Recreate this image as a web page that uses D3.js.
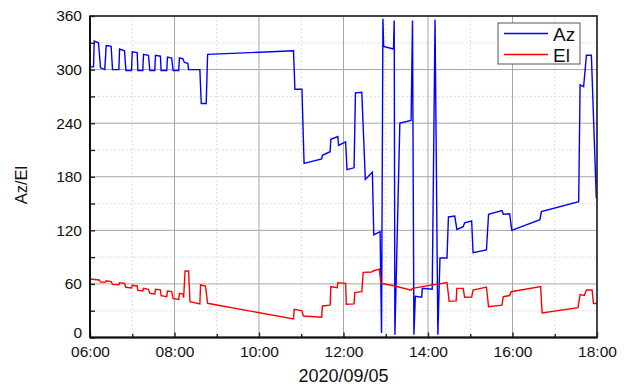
<!DOCTYPE html>
<html>
<head>
<meta charset="utf-8">
<script src="https://cdn.jsdelivr.net/npm/d3@7"></script>
<style>
  body { margin: 0; background: #fff; }
  svg { font-family: "Liberation Sans", Arial, sans-serif; }
</style>
</head>
<body>
<svg id="chart" width="627" height="385"></svg>
<script>
// Az series (time, degrees)
var azTimes = ['06:00','06:05','06:06','06:12','06:15','06:21','06:23','06:30','06:32','06:41','06:42','06:49','06:51','06:59',
  '07:00','07:07','07:08','07:15','07:16','07:23','07:25','07:32','07:33','07:40','07:41','07:49','07:50','07:56','07:58',
  '08:06','08:07','08:12','08:14','08:19','08:20','08:36','08:38','08:45','08:47','10:49','10:51','11:01','11:04','11:29',
  '11:30','11:41','11:42','11:52','11:53','12:03','12:05','12:15','12:17','12:26','12:31','12:41','12:43','12:52','12:54',
  '12:56','12:57','13:11','13:12','13:13','13:20','13:36','13:38','13:40','13:42','13:51','13:52','14:06','14:10','14:14',
  '14:17','14:27','14:29','14:38','14:41','14:50','14:52','15:02','15:04','15:23','15:26','15:45','15:47','15:56','15:59',
  '16:39','16:41','17:34','17:36','17:41','17:45','17:52','17:59'];
var azValues = [303,303,332,330,302,300,327,326,300,300,323,321,299,299,
  320,319,299,299,317,316,299,299,316,315,299,299,314,313,299,
  299,313,312,308,307,300,300,262,262,317,321,278,278,195,200,
  204,208,222,225,215,219,188,190,274,274.5,177,185,115,118.5,5,
  357,326,323,355,3,240,243,355,3,46,45,55,54,356,3,
  89,89,135,136,121,124,128.5,130.5,95,98,138,142,138,138.5,120,
  132,141,152,283,281,316,316,156];

// El series (time, degrees)
var elTimes = ['06:00','06:13','06:15','06:22','06:23','06:30','06:32','06:41','06:42','06:49','06:51','06:59',
  '07:00','07:07','07:08','07:15','07:16','07:23','07:25','07:32','07:33','07:40','07:41','07:49','07:50','07:56','07:58',
  '08:06','08:07','08:12','08:13','08:15','08:20','08:22','08:36','08:37','08:44','08:47','10:49','10:50','11:01','11:03',
  '11:29','11:30','11:41','11:42','11:51','11:52','12:03','12:04','12:15','12:16','12:26','12:28','12:40','12:42','12:51',
  '12:53','13:12','13:36','13:38','13:52','14:27','14:30','14:40','14:41','14:50','14:52','15:02','15:04','15:23','15:26',
  '15:45','15:47','15:56','15:58','16:40','16:42','17:33','17:36','17:42','17:45','17:53','17:55','18:00'];
var elValues = [65.5,64.4,62,62,63.6,62.5,59.5,59,61.4,60.5,56.2,55.5,
  58.4,57.7,52.8,52,55,54,49.5,48.8,54,53.3,46.8,45.7,52,51.4,43.5,
  42.7,49.5,48.5,44.6,74.5,74.5,40,37.7,58.8,57.5,38.3,20.7,31.6,29.8,24,
  22.6,35.3,36.3,56.9,55.7,61.4,60.6,37.2,37.6,50.2,51.4,73,73.3,74.5,76.5,
  60.7,58,53,55,56.9,61.6,40.5,41,55,55,45,45.4,53.2,56.5,34.5,
  36.3,45.7,47,51.3,57,27.5,33.5,48,47,53.2,53.2,38,38];

var yMajor = [0, 60, 120, 180, 240, 300, 360];
var yMinor = [30, 90, 150, 210, 270, 330];
var xMajor = ['06:00', '08:00', '10:00', '12:00', '14:00', '16:00', '18:00'];
var xMinor = ['07:00', '09:00', '11:00', '13:00', '15:00', '17:00'];
var seriesNames = ['Az', 'El'];
var seriesColors = ['#0000ff', '#ff0000'];

var svg = d3.select('#chart');
var margin = {top: 16, right: 30, bottom: 47.5, left: 90};
var width = 627 - margin.left - margin.right;
var height = 385 - margin.top - margin.bottom;
var parseTime = d3.timeParse('%Y-%m-%d %H:%M');
var t = s => parseTime('2020-09-05 ' + s);

var x = d3.scaleTime().domain([t('06:00'), t('18:00')]).range([0, width]);
var y = d3.scaleLinear().domain([0, 360]).range([height, 0]);

var g = svg.append('g').attr('transform', `translate(${margin.left},${margin.top})`);

// grid: dotted minor, solid major
g.append('g').selectAll('line').data(xMinor).enter().append('line')
    .attr('x1', d => x(t(d))).attr('x2', d => x(t(d)))
    .attr('y1', 0).attr('y2', height)
    .attr('stroke', '#d4d4d4').attr('stroke-dasharray', '1.5,2.5');
g.append('g').selectAll('line').data(yMinor).enter().append('line')
    .attr('x1', 0).attr('x2', width)
    .attr('y1', d => y(d)).attr('y2', d => y(d))
    .attr('stroke', '#d4d4d4').attr('stroke-dasharray', '1.5,2.5');
g.append('g').selectAll('line').data(xMajor).enter().append('line')
    .attr('x1', d => x(t(d))).attr('x2', d => x(t(d)))
    .attr('y1', 0).attr('y2', height)
    .attr('stroke', '#a6a6a6');
g.append('g').selectAll('line').data(yMajor).enter().append('line')
    .attr('x1', 0).attr('x2', width)
    .attr('y1', d => y(d)).attr('y2', d => y(d))
    .attr('stroke', '#a6a6a6');

// lines
var line = d3.line().x(d => x(d[0])).y(d => y(d[1]));
var azData = azTimes.map((d, i) => [t(d), azValues[i]]);
var elData = elTimes.map((d, i) => [t(d), elValues[i]]);

g.append('path').datum(azData)
    .attr('fill', 'none').attr('stroke', seriesColors[0]).attr('stroke-width', 1.4)
    .attr('d', line);
g.append('path').datum(elData)
    .attr('fill', 'none').attr('stroke', seriesColors[1]).attr('stroke-width', 1.4)
    .attr('d', line);

// axes (ticks point inward)
var yAxis = g.append('g')
    .call(d3.axisLeft(y).tickValues(yMajor.concat(yMinor)).tickSize(-5).tickPadding(8)
        .tickFormat(d => yMajor.indexOf(d) >= 0 ? d : ''));
var xAxis = g.append('g').attr('transform', `translate(0,${height})`)
    .call(d3.axisBottom(x).tickValues(xMajor.concat(xMinor).map(t))
        .tickSize(-5).tickPadding(8).tickFormat(d3.timeFormat('%H:%M'))
    );
xAxis.selectAll('.tick').filter(d => xMinor.indexOf(d3.timeFormat('%H:%M')(d)) >= 0)
    .each(function () {
        d3.select(this).select('text').remove();
        d3.select(this).select('line').attr('y2', -3.5);
    });
[yAxis, xAxis].forEach(a => {
    a.select('.domain').remove();
    a.selectAll('.tick line').attr('stroke', '#222').attr('stroke-width', 1.4);
    a.selectAll('text').attr('font-size', 15.5).attr('fill', '#111')
        .attr('font-family', '"Liberation Sans", Arial, sans-serif');
});
// lift the "0" label a little so it clears "06:00"
yAxis.selectAll('.tick').filter(d => d === 0).select('text').attr('dy', '0em');

// frame
g.append('rect').attr('width', width).attr('height', height)
    .attr('fill', 'none').attr('stroke', '#222').attr('stroke-width', 1.6);
g.append('line').attr('x1', 0).attr('x2', 0).attr('y1', 0).attr('y2', height)
    .attr('stroke', '#111').attr('stroke-width', 2);
g.append('line').attr('x1', 0).attr('x2', width).attr('y1', height).attr('y2', height)
    .attr('stroke', '#111').attr('stroke-width', 2);

// axis titles
svg.append('text')
    .attr('x', margin.left + width / 2).attr('y', 382)
    .attr('text-anchor', 'middle').attr('font-size', 18).attr('fill', '#111')
    .text('2020/09/05');
svg.append('text')
    .attr('transform', 'translate(27,185) rotate(-90)')
    .attr('text-anchor', 'middle').attr('font-size', 16.5).attr('fill', '#111')
    .text('Az/El');

// legend
var legend = svg.append('g').attr('transform', 'translate(498,23)');
legend.append('rect').attr('width', 82).attr('height', 41)
    .attr('fill', '#fff').attr('stroke', '#555').attr('stroke-width', 1);
var item = legend.selectAll('.item').data(seriesNames).enter().append('g')
    .attr('class', 'item')
    .attr('transform', (d, i) => `translate(0,${10.5 + i * 21})`);
item.append('line').attr('x1', 6).attr('x2', 50)
    .attr('stroke', (d, i) => seriesColors[i]).attr('stroke-width', 1.4);
item.append('text').attr('x', 55).attr('y', 7)
    .attr('font-size', 19).attr('fill', '#111')
    .text(d => d);
</script>
</body>
</html>
